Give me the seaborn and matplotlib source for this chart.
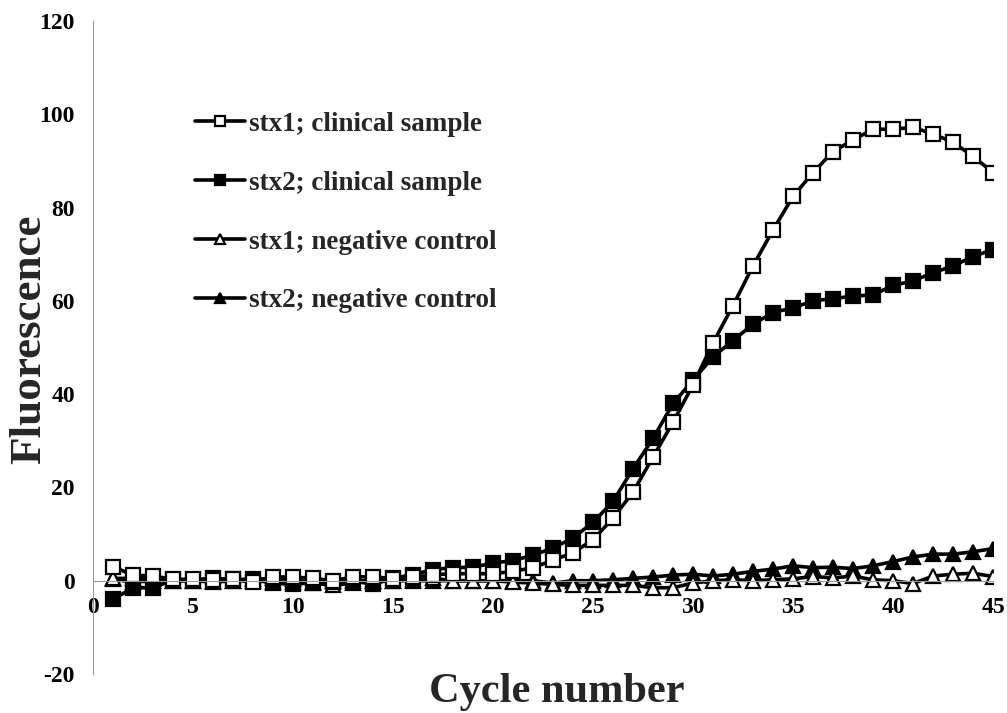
import seaborn as sns
import matplotlib.pyplot as plt
import numpy as np

cycles = np.arange(1, 46)

stx1_clinical = [3, 1.2, 1, 0.3, 0.3, 0.2, 0.3, -0.3, 0.8, 0.8,
                 0.5, 0, 0.8, 0.9, 0.4, 0.7, 1.3, 1.5, 1.5, 1.5,
                 2, 2.8, 4.4, 6, 8.8, 13.4, 19, 26.5, 34, 42,
                 51, 59, 67.5, 75.2, 82.4, 87.5, 92, 94.5, 96.8, 96.8,
                 97.2, 95.8, 94, 91, 87.5]
stx2_clinical = [-4, -1.5, -1.5, 0.2, 0.2, 0.5, 0.3, 0.3, -0.5, -0.8,
                 -0.4, -0.3, 0, -0.8, 0.5, 1.3, 2.4, 2.8, 2.9, 3.8,
                 4.3, 5.5, 7, 9.2, 12.5, 17, 24, 30.5, 38, 43,
                 48, 51.5, 55, 57.5, 58.5, 60, 60.5, 61, 61.3, 63.3,
                 64.3, 66, 67.5, 69.5, 71]
stx1_negative = [0.5, 0.5, 0.3, 0, 0, -0.3, 0, 0.3, 0.5, 0.3,
                 -0.5, -1, -0.5, 0, 0, 0.3, 0.5, 0, 0, 0,
                 -0.3, -0.5, -0.8, -1, -1, -1, -1, -1.5, -1.5, -0.5,
                 0, 0.2, 0, 0.2, 0.4, 0.9, 0.6, 1, 0.2, 0,
                 -0.6, 1, 1.4, 1.6, 0.9]
stx2_negative = [0.3, -0.3, 0, 0, 0, 0, 0, 0, -0.3, -0.3,
                 -0.3, 0, 0, 0, 0, 0, 0, 0, 0, 0,
                 0, 0, -0.5, 0, 0, 0.2, 0.5, 0.8, 1.2, 1.4,
                 1.0, 1.4, 2, 2.5, 3.2, 2.8, 2.9, 2.6, 3.2, 4.1,
                 5.1, 5.7, 5.7, 6.2, 6.9]

series = [
    ("stx1; clinical sample", stx1_clinical, "s", "white"),
    ("stx2; clinical sample", stx2_clinical, "s", "black"),
    ("stx1; negative control", stx1_negative, "^", "white"),
    ("stx2; negative control", stx2_negative, "^", "black"),
]

sns.set_style("white")
plt.rcParams["font.family"] = ["Liberation Serif", "DejaVu Serif"]
plt.rcParams["font.weight"] = "bold"
plt.rcParams["axes.unicode_minus"] = False

fig = plt.figure(figsize=(10.07, 7.13), dpi=100)
ax = fig.add_axes([0.0924, 0.0547, 0.8937, 0.9158])

# draw negatives first so clinical curves sit on top
for label, vals, mk, face in series[::-1]:
    sns.lineplot(x=cycles, y=vals, ax=ax, color="black", linewidth=2.6,
                 marker=mk, markersize=10, markerfacecolor=face,
                 markeredgecolor="black", markeredgewidth=1.6, label=label)

ax.set_xlim(0, 45)
ax.set_ylim(-20, 120)
ax.set_xticks(range(0, 46, 5))
ax.set_yticks(range(-20, 121, 20))

ax.spines["top"].set_visible(False)
ax.spines["right"].set_visible(False)
ax.spines["bottom"].set_position(("data", 0))
for s in ("left", "bottom"):
    ax.spines[s].set_color("#9a9a9a")
    ax.spines[s].set_linewidth(0.8)

ax.tick_params(axis="both", labelsize=17, colors="black", length=4,
               width=0.8, color="#9a9a9a")
ax.tick_params(axis="x", direction="out", pad=8)
ax.tick_params(axis="y", direction="out", pad=9)
for t in ax.get_xticklabels() + ax.get_yticklabels():
    t.set_fontweight("bold")

ax.set_xlabel("")
ax.set_ylabel("")
fig.text(0.553, 0.029, "Cycle number", ha="center", va="center",
         fontsize=30.5, fontweight="bold")
fig.text(0.029, 0.524, "Fluorescence", ha="center", va="center",
         rotation=90, fontsize=32.5, fontweight="bold")

h, l = ax.get_legend_handles_labels()
order = [3, 2, 1, 0]
ax.legend([h[i] for i in order], [l[i] for i in order], loc="upper left",
          bbox_to_anchor=(0.113, 0.861), frameon=False, fontsize=19.5,
          handlelength=1.85, handletextpad=0.15, labelspacing=1.25,
          borderpad=0, borderaxespad=0, markerscale=0.75)

plt.savefig("out.png", dpi=100)
